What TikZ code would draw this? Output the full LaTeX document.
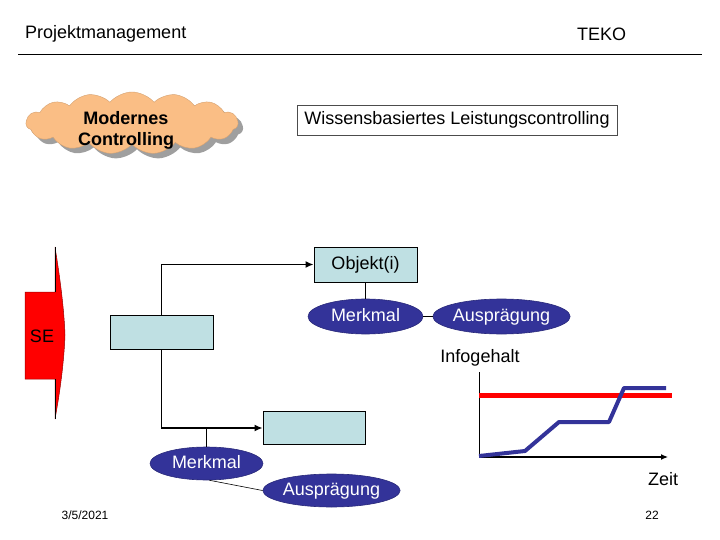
\documentclass[tikz,border=0pt]{standalone}
\usepackage{fontspec}
\setmainfont{Liberation Sans}
\usetikzlibrary{shapes.geometric,shapes.symbols,arrows.meta,shadows}
\definecolor{lblue}{HTML}{BFE0E3}
\definecolor{navy}{HTML}{333399}
\definecolor{corange}{HTML}{FABE85}
\begin{document}
\begin{tikzpicture}[x=1pt,y=-1pt,
  font=\fontsize{18}{21}\selectfont,
  box/.style={draw=black, line width=0.8pt, fill=lblue, inner sep=0pt},
  ell/.style={ellipse, draw=navy!80!black, line width=0.6pt, fill=navy, text=white, inner sep=0pt,
              text height=13pt, text depth=4pt},
  conn/.style={line width=1.6pt, -{Latex[length=8pt,width=7pt]}},
  link/.style={line width=1pt},
  small/.style={font=\fontsize{12}{14}\selectfont}]
\useasboundingbox (0,0) rectangle (720,540);

% header
\node[anchor=base west, inner sep=0pt] (pm) at (25,39) {Projektmanagement};
\node[anchor=base west, inner sep=0pt] (teko) at (577,41) {TEKO};
\draw[line width=0.8pt] (18,54) -- (702,54);

% cloud
\node[cloud, cloud puffs=15, cloud puff arc=100, cloud ignores aspect,
      minimum width=212, minimum height=62, fill=corange, draw=corange!85!black,
      drop shadow={shadow xshift=5pt, shadow yshift=-5pt, fill=gray!75, opacity=1}]
      (cloud) at (132,123) {};
\node[font=\fontsize{18}{21}\bfseries, align=center] (ctext) at (126,130) {Modernes\\Controlling};

% title box
\node[draw=black!70, line width=0.8pt, fill=white, minimum width=320, minimum height=30, inner sep=0pt]
      (wl) at (457,120) {Wissensbasiertes Leistungscontrolling};

% SE shape
\fill[red, draw=red!60!black, line width=0.5pt]
  (55,247) -- (55,292) -- (25,292) -- (25,379) -- (55,379) -- (55,419)
  .. controls (60,392) and (64,362) .. (65,335)
  .. controls (64,308) and (60,278) .. (55,247) -- cycle;
\draw[line width=1pt] (55,247) -- (55,292);
\draw[line width=1pt] (55,379) -- (55,419);
\node (se) at (42,336) {SE};

% boxes
\node[box, minimum width=103, minimum height=35] (obj) at (365.5,264.5) {Objekt(i)};
\node[box, minimum width=103, minimum height=34] (b1) at (161.5,332) {};
\node[box, minimum width=102, minimum height=33] (b2) at (314,428) {};

% ellipses
\node[ell, minimum width=115, minimum height=35] (m1) at (365.5,316.5) {Merkmal};
\node[ell, minimum width=113, minimum height=35] (a1) at (501.5,316.5) {Ausprägung};
\node[ell, minimum width=113, minimum height=33] (m2) at (206.5,463.5) {Merkmal};
\node[ell, minimum width=113, minimum height=33] (a2) at (331.5,490.5) {Ausprägung};

% connectors
\draw[conn] (b1.north) |- (obj.west);
\draw[conn] (b1.south) |- (b2.west);
\draw[link] (obj.south) -- (m1.north);
\draw[link] (m1.east) -- (a1.west);
\draw[link] (m2.north) -- (m2.north |- b2.west);
\draw[line width=0.6pt] (m2.-80) -- (a2.west);

% chart
\node (info) at (480,358) {Infogehalt};
\coordinate (o) at (479,457);
\coordinate (ytop) at (479,372);
\coordinate (xend) at (668,457);
\draw[line width=1pt] (ytop) -- (o);
\draw[line width=1.2pt, -{Latex[length=7pt,width=6pt]}] (o) -- (xend);
\draw[red, line width=5pt] (479,395) -- (672,395);
\draw[navy, line width=4pt, line join=round] (479,456) -- (525,451) -- (559,422) -- (609,422) -- (624,388) -- (666,388);
\node (zeit) at (663,479) {Zeit};

% footer
\node[small] (date) at (85,515) {3/5/2021};
\node[small] (page) at (652,515) {22};
\end{tikzpicture}
\end{document}
